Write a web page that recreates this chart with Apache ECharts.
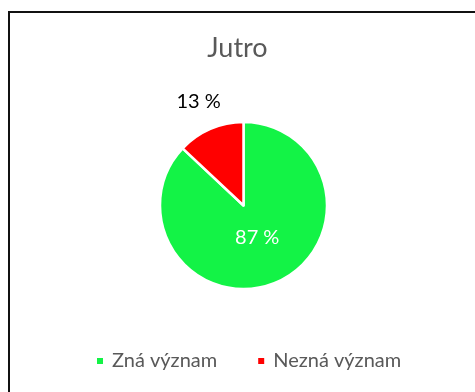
<!DOCTYPE html>
<html>
<head>
<meta charset="utf-8">
<script src="https://cdn.jsdelivr.net/npm/echarts@6/dist/echarts.min.js"></script>
<style>
  html, body { margin: 0; padding: 0; background: #ffffff; }
  #chart { width: 475px; height: 392px; }
</style>
</head>
<body>
<div id="chart"></div>
<script>
// Share of respondents who know the meaning of "Jutro"
const titleText = 'Jutro';
const categories = ['Zná význam', 'Nezná význam'];
const values = [87, 13];
const sliceColors = ['#13F346', '#FF0000'];
const labelColors = ['#FFFFFF', '#000000'];

const FONT = 'Lato, "Open Sans", sans-serif';
const center = [243.5, 205.5];

const pieData = categories.map((name, i) => ({
  name: name,
  value: values[i],
  itemStyle: { color: sliceColors[i] }
}));

// Label-only ring: shows the value of one slice at half its radius
function labelRing(radius, showIndex) {
  return {
    type: 'pie',
    center: center,
    radius: [0, radius],
    startAngle: 90,
    clockwise: true,
    silent: true,
    z: 3,
    itemStyle: { color: 'rgba(0,0,0,0)', borderWidth: 0 },
    emphasis: { disabled: true },
    labelLine: { show: false },
    data: categories.map((name, i) => ({
      name: name,
      value: values[i],
      label: {
        show: i === showIndex,
        position: 'inside',
        formatter: '{c} %',
        color: labelColors[i],
        fontSize: 20,
        fontFamily: FONT
      }
    }))
  };
}

const chart = echarts.init(document.getElementById('chart'), null, { renderer: 'canvas' });
chart.setOption({
  animation: false,
  backgroundColor: '#ffffff',
  graphic: [{
    type: 'rect',
    shape: { x: 9, y: 12, width: 480, height: 400 },
    style: { fill: 'none', stroke: '#111111', lineWidth: 2 },
    silent: true
  }],
  title: {
    text: titleText,
    left: 'center',
    top: 30,
    textStyle: { fontFamily: FONT, fontSize: 27, fontWeight: 'normal', color: '#595959' }
  },
  legend: {
    data: categories,
    left: 90,
    top: 346,
    icon: 'rect',
    itemWidth: 8,
    itemHeight: 8,
    itemGap: 39,
    textStyle: { fontFamily: FONT, fontSize: 20, color: '#595959', padding: [0, 0, 0, 3] }
  },
  series: [
    {
      type: 'pie',
      center: center,
      radius: [0, 83.5],
      startAngle: 90,
      clockwise: true,
      silent: true,
      z: 2,
      itemStyle: { borderColor: '#ffffff', borderWidth: 2.5 },
      label: { show: false },
      labelLine: { show: false },
      emphasis: { disabled: true },
      data: pieData
    },
    labelRing(63, 0),
    labelRing(220, 1)
  ]
});
</script>
</body>
</html>
